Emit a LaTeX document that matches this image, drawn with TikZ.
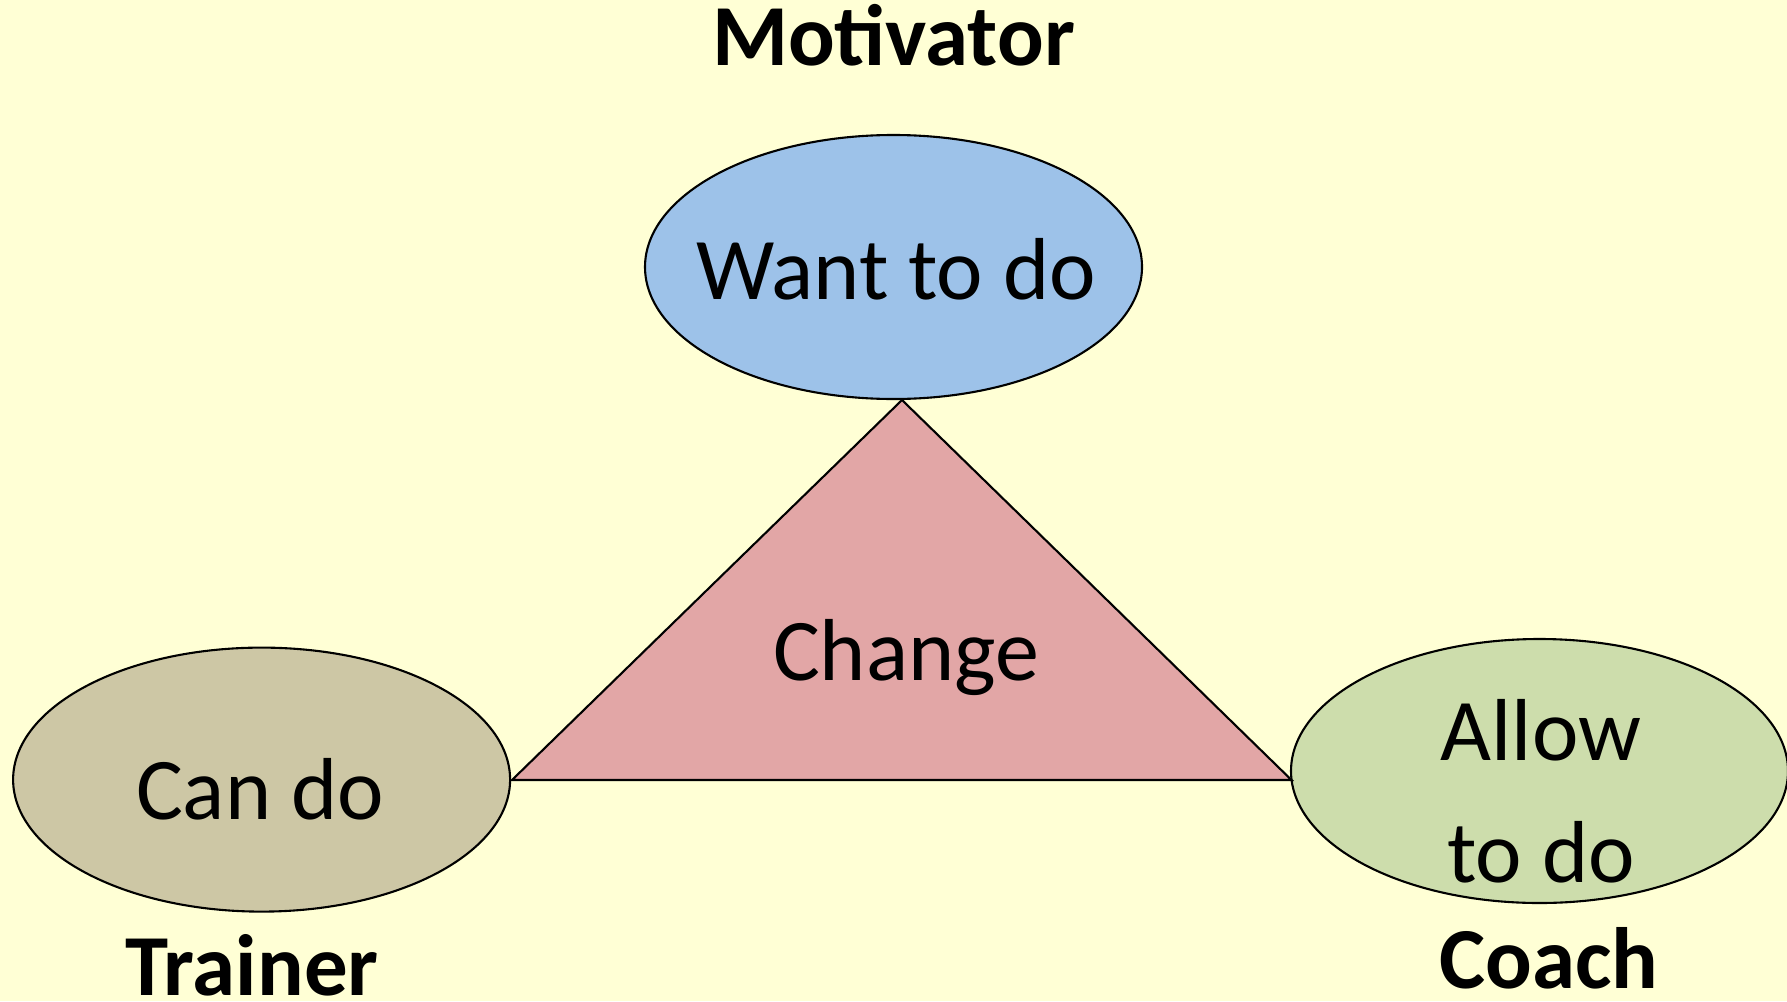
\documentclass[tikz,border=0pt]{standalone}
\usepackage{fontspec}
\setmainfont{Carlito}
\usetikzlibrary{shapes.geometric}
\definecolor{bgc}{RGB}{255,255,213}
\definecolor{bluec}{RGB}{157,194,233}
\definecolor{tanc}{RGB}{205,199,165}
\definecolor{greenc}{RGB}{205,221,172}
\definecolor{pinkc}{RGB}{226,166,166}
\begin{document}
\begin{tikzpicture}[x=1pt,y=-1pt,
  oval/.style={ellipse,draw=black,line width=2.1pt,inner sep=0pt,minimum width=497pt,minimum height=264pt},
  lbl/.style={anchor=base,inner sep=0pt,font=\fontsize{88}{105}\selectfont},
  blbl/.style={anchor=base,inner sep=0pt,font=\fontsize{87}{104}\selectfont\bfseries}]
\fill[bgc] (0,0) rectangle (1787,1001);
\useasboundingbox (0,0) rectangle (1787,1001);
\node[oval,fill=bluec] (want) at (893.5,267) {};
\node[oval,fill=tanc] (can) at (261.6,779.6) {};
\node[oval,fill=greenc] (allow) at (1539.5,771) {};
\coordinate (apex) at (902,400);
\coordinate (bl) at (512,780);
\coordinate (br) at (1291.5,780);
\draw[line width=2.1pt,fill=pinkc,line join=miter] (apex) -- (br) -- (bl) -- cycle;
\node[lbl] (twant) at (896,299) {Want to do};
\node[lbl] (tcan) at (260,819) {Can do};
\node[lbl] (tchange) at (906,680) {Change};
\node[lbl] (tallow) at (1541,760) {Allow};
\node[lbl] (ttodo) at (1541,882) {to do};
\node[blbl] (tmot) at (893.5,65) {Motivator};
\node[blbl] (ttrain) at (252,995) {Trainer};
\node[blbl] (tcoach) at (1549,988) {Coach};
\end{tikzpicture}
\end{document}
